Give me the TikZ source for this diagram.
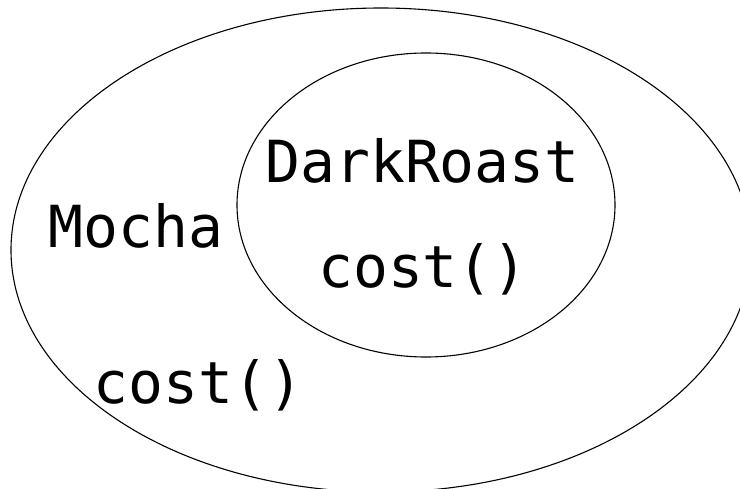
\documentclass[tikz,border=0pt]{standalone}
\usepackage{fontspec}
\newfontfamily\codefont{DejaVu Sans Mono}
\usetikzlibrary{shapes.geometric}
\begin{document}
\begin{tikzpicture}[x=1pt,y=-1pt,
  ring/.style={draw=black, line width=1.1pt, ellipse, inner sep=0pt},
  label/.style={font=\codefont\fontsize{58}{60}\selectfont, anchor=base, inner sep=0pt, text=black}]
\useasboundingbox (0,0) rectangle (740,489);
\clip (0,0) rectangle (740,489);
\fill[white] (0,0) rectangle (740,489);
\node[ring, minimum width=740pt, minimum height=484pt] (outer) at (381,250) {};
\node[ring, minimum width=378pt, minimum height=304pt] (inner) at (426,205) {};
\node[label] (dark) at (422.5,183) {DarkRoast};
\node[label] (icost) at (423,288) {cost()};
\node[label] (mocha) at (136,248) {Mocha};
\node[label] (ocost) at (198.5,403) {cost()};
\end{tikzpicture}
\end{document}
